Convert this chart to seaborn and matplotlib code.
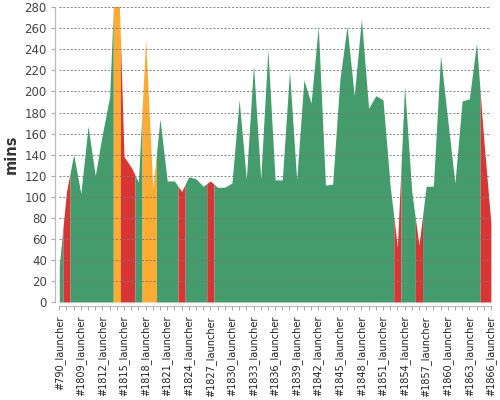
import numpy as np
import matplotlib
matplotlib.use("Agg")
import matplotlib.pyplot as plt
import seaborn as sns

# build numbers: first one is the old #790, then #1807 .. #1866
builds = ["#790_launcher"] + ["#%d_launcher" % n for n in range(1807, 1867)]

durations = [35, 105, 140, 103, 167, 120, 160, 195, 360, 138,
             128, 114, 250, 108, 174, 115, 115, 105, 119, 117,
             110, 115, 109, 109, 113, 192, 117, 225, 117, 240,
             116, 116, 219, 116, 211, 189, 262, 111, 112, 211,
             262, 196, 269, 184, 196, 192, 110, 52, 205, 105,
             54, 110, 110, 234, 173, 113, 191, 193, 246, 155,
             75]

status = (["ok"] + ["fail"] + ["ok"] * 6 + ["unstable"] + ["fail"] * 2
          + ["ok"] + ["unstable"] * 2 + ["ok"] * 3 + ["fail"] + ["ok"] * 3
          + ["fail"] + ["ok"] * 25 + ["fail"] + ["ok"] * 2 + ["fail"]
          + ["ok"] * 8 + ["fail"] * 2)

colors = {"ok": "#449c6c", "fail": "#d83535", "unstable": "#fdab33"}

sns.set_theme(style="white")
plt.rcParams["font.family"] = ["DejaVu Sans"]

fig = plt.figure(figsize=(5, 4), dpi=100)
ax = fig.add_axes([0.1186, 0.245, 0.8632, 0.7368])

x = np.arange(len(durations))
y = np.array(durations, dtype=float)
last = len(durations) - 1

# fill each run of same-status builds as one band
start = 0
for i in range(1, len(status) + 1):
    if i == len(status) or status[i] != status[start]:
        lo = max(start - 0.5, 0)
        hi = min(i - 1 + 0.5, last)
        xs = np.concatenate([[lo], x[start:i], [hi]])
        xs = np.unique(xs)
        ax.fill_between(xs, np.interp(xs, x, y), 0,
                        color=colors[status[start]], linewidth=0, zorder=1)
        start = i

# offset spines first, it resets the ticks
sns.despine(ax=ax, offset=3)
for side in ["left", "bottom"]:
    ax.spines[side].set_color("#bbb")
    ax.spines[side].set_linewidth(0.9)

ax.set_xlim(0, last)
ax.set_ylim(0, 280)
ax.set_yticks(range(0, 281, 20))
ax.set_xticks(x[::3])
ax.set_xticklabels(builds[::3], rotation=90)
ax.set_xticks(x, minor=True)
ax.tick_params(axis="y", labelsize=8.5, labelcolor="#444", color="#aaa",
               length=3, width=0.8, left=True, pad=3)
ax.tick_params(axis="x", which="both", length=3, width=0.8, color="#aaa",
               bottom=True)
ax.tick_params(axis="x", which="major", labelsize=7, labelcolor="#222",
               labelrotation=90, pad=4)

ax.set_axisbelow(False)
ax.yaxis.grid(True, color="#777", linestyle=(0, (2.5, 2)), linewidth=0.6,
              zorder=2)
ax.xaxis.grid(False)

ax.set_ylabel("mins", fontsize=10.5, fontweight="bold", color="#333",
              labelpad=4)

fig.savefig("out.png", dpi=100)
